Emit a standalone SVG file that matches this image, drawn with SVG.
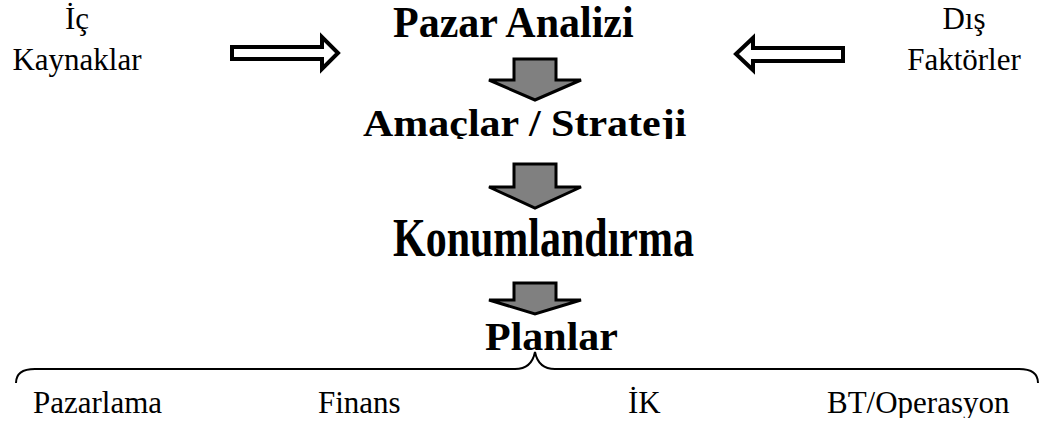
<svg xmlns="http://www.w3.org/2000/svg" width="1052" height="426" viewBox="0 0 1052 426">
  <style>
    text { font-family: 'Liberation Serif', 'DejaVu Serif', serif; fill: #000; }
    .title { font-weight: bold; font-size: 42px; }
    .label { font-size: 31px; }
    .down { fill: #808080; stroke: #000; stroke-width: 3; stroke-linejoin: miter; }
    .side { fill: #fff; stroke: #000; stroke-width: 4; stroke-linejoin: miter; }
    .brace { fill: none; stroke: #000; stroke-width: 2; }
  </style>
  <defs>
    <clipPath id="clipStrategy"><rect x="0" y="0" width="1052" height="139"/></clipPath>
    <clipPath id="clipBottom"><rect x="0" y="0" width="1052" height="418"/></clipPath>
  </defs>

  <!-- side inputs -->
  <g id="node-ic-kaynaklar">
    <text class="label" x="77" y="29" text-anchor="middle">İç</text>
    <text class="label" x="77" y="70" text-anchor="middle">Kaynaklar</text>
  </g>
  <g id="node-dis-faktorler">
    <text class="label" x="964" y="29" text-anchor="middle">Dış</text>
    <text class="label" x="964" y="70" text-anchor="middle">Faktörler</text>
  </g>

  <!-- main flow (titles are stretched vertically, baseline kept) -->
  <g id="node-pazar-analizi">
    <text class="title" transform="translate(393,37) scale(1,1.05)">Pazar Analizi</text>
  </g>
  <g id="node-amaclar-strateji" clip-path="url(#clipStrategy)">
    <text class="title" transform="translate(363,136) scale(1,0.88)">Amaçlar / Strateji</text>
  </g>
  <g id="node-konumlandirma">
    <text class="title" transform="translate(393,256) scale(1,1.3)">Konumlandırma</text>
  </g>
  <g id="node-planlar">
    <text class="title" transform="translate(485,350) scale(1,0.95)">Planlar</text>
  </g>

  <!-- plan areas -->
  <g id="node-pazarlama"><text class="label" x="33" y="413">Pazarlama</text></g>
  <g id="node-finans"><text class="label" x="318" y="413">Finans</text></g>
  <g id="node-ik"><text class="label" x="628" y="413">İK</text></g>
  <g id="node-bt-operasyon" clip-path="url(#clipBottom)"><text class="label" x="827" y="413">BT/Operasyon</text></g>

  <!-- connectors -->
  <g id="connectors">
    <path class="side" d="M232,47 L322,47 L322,37 L338,53 L322,69 L322,59 L232,59 Z"/>
    <path class="side" d="M736,54 L753,38 L753,48 L843,48 L843,61 L753,61 L753,70 Z"/>
    <path class="down" d="M514,59 L556,59 L556,80 L581,80 L535,100 L489,80 L514,80 Z"/>
    <path class="down" d="M514,164 L556,164 L556,187 L581,187 L535,208 L489,187 L514,187 Z"/>
    <path class="down" d="M514,283 L556,283 L556,300 L581,300 L535,314 L489,300 L514,300 Z"/>
    <path class="brace" d="M16,383 C16,374 22,369 35,369 L515,369 C528,369 533,362 535,352 C537,362 542,369 555,369 L1019,369 C1032,369 1038,374 1038,383"/>
  </g>
</svg>
